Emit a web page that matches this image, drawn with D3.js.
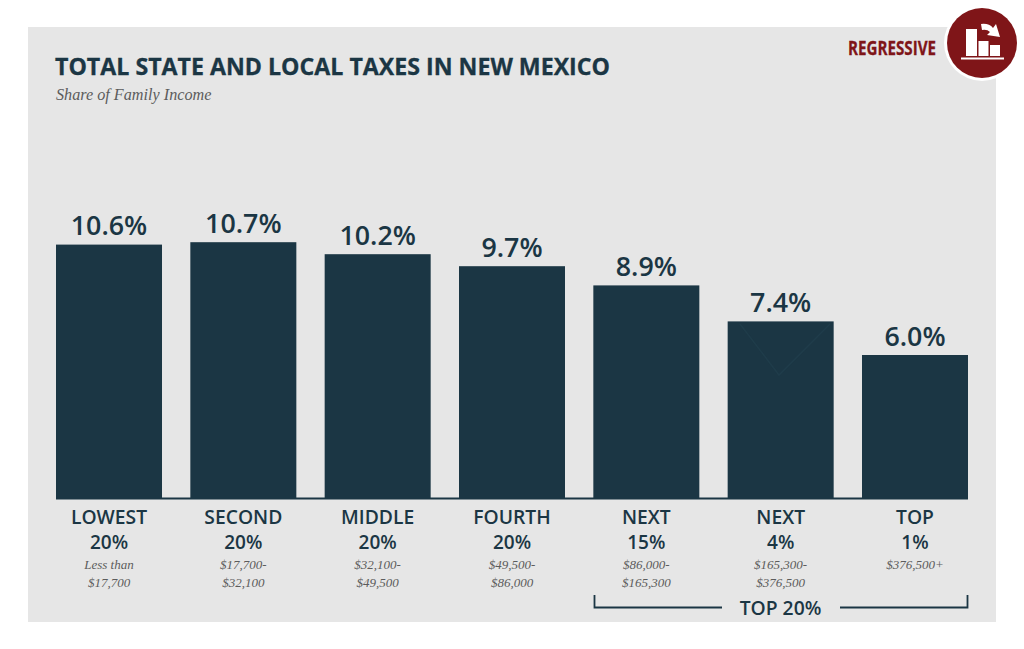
<!DOCTYPE html>
<html><head><meta charset="utf-8">
<script src="https://cdn.jsdelivr.net/npm/d3@7"></script>
<style>html,body{margin:0;padding:0;background:#fff}svg{display:block}</style>
</head><body><svg id="c" width="1024" height="649"></svg>
<script>
const groups=["LOWEST","SECOND","MIDDLE","FOURTH","NEXT","NEXT ","TOP"];
const shares=["20%","20%","20%","20%","15%","4%","1%"];
const values=[10.6,10.7,10.2,9.7,8.9,7.4,6.0];
const ranges=[["Less than","$17,700"],["$17,700-","$32,100"],["$32,100-","$49,500"],["$49,500-","$86,000"],["$86,000-","$165,300"],["$165,300-","$376,500"],["$376,500+"]];
const dark="#1b3644",sans="'Open Sans'",serif="'Liberation Serif'",red="#7f1518";
const svg=d3.select("#c");
svg.append("rect").attr("x",28).attr("y",27).attr("width",968).attr("height",595).attr("fill","#e6e6e6");
const x=d3.scaleBand().domain(groups).range([56,968]).paddingInner(0.2109);
const y=d3.scaleLinear().domain([0,10]).range([499,259]);
svg.append("text").attr("x",55).attr("y",75).attr("font-family",sans).attr("font-weight",700).attr("font-size",23.5).attr("fill",dark).attr("stroke",dark).attr("stroke-width",0.3).attr("textLength",555).attr("lengthAdjust","spacingAndGlyphs").text("TOTAL STATE AND LOCAL TAXES IN NEW MEXICO");
svg.append("text").attr("x",56).attr("y",100).attr("font-family",serif).attr("font-style","italic").attr("font-size",16.2).attr("fill","#5c5c5c").text("Share of Family Income");
svg.selectAll("rect.bar").data(values).join("rect").attr("class","bar")
 .attr("x",(d,i)=>x(groups[i])).attr("width",x.bandwidth()).attr("y",d=>y(d)).attr("height",d=>y(0)-y(d)).attr("fill",dark);
svg.append("line").attr("x1",56).attr("x2",968).attr("y1",498.5).attr("y2",498.5).attr("stroke",dark).attr("stroke-width",2);
svg.append("path").attr("d","M740 324L779 375L830 324").attr("fill","none").attr("stroke","#1f3c4a").attr("stroke-width",1.5);
const cx=i=>x(groups[i])+x.bandwidth()/2;
const center=(txt,px,py,size,weight,fill,fam,style)=>svg.append("text").attr("x",px).attr("y",py).attr("text-anchor","middle").attr("font-family",fam||sans).attr("font-weight",weight||400).attr("font-style",style||"normal").attr("font-size",size).attr("fill",fill||dark).text(txt);
values.forEach((v,i)=>{
 center(v.toFixed(1)+"%",cx(i),y(v)-9.5,26.8,600);
 center(groups[i].trim(),cx(i),524,19.3,600);
 center(shares[i],cx(i),549,19,600);
 ranges[i].forEach((t,j)=>center(t,cx(i),569+j*17.5,13,400,"#5c5c5c",serif,"italic"));
});
center("TOP 20%",780.5,615,19.3,600);
svg.append("path").attr("d","M594.5 595V607.5H722M840 607.5H967.5V595").attr("fill","none").attr("stroke",dark).attr("stroke-width",1.8);
// badge
svg.append("text").attr("x",936).attr("y",55).attr("text-anchor","end").attr("font-family","'Liberation Sans Narrow','Open Sans'").attr("font-weight",700).attr("font-size",19.5).attr("fill",red).attr("stroke",red).attr("stroke-width",0.3).attr("textLength",88).attr("lengthAdjust","spacingAndGlyphs").text("REGRESSIVE");
svg.append("circle").attr("cx",982).attr("cy",43).attr("r",38).attr("fill","#fff");
svg.append("circle").attr("cx",982).attr("cy",43).attr("r",35).attr("fill",red);
const ic=svg.append("g").attr("fill","#fff");
ic.append("rect").attr("x",966).attr("y",29).attr("width",11).attr("height",27);
ic.append("rect").attr("x",978.5).attr("y",41).attr("width",10).attr("height",15);
ic.append("rect").attr("x",990).attr("y",45).attr("width",10).attr("height",11);
ic.append("rect").attr("x",961).attr("y",57.5).attr("width",43).attr("height",2);
ic.append("path").attr("d","M981 24Q989 23 993 28L996 24L1000 37L987 35L990 32Q987 29 982 30Z");
</script></body></html>
